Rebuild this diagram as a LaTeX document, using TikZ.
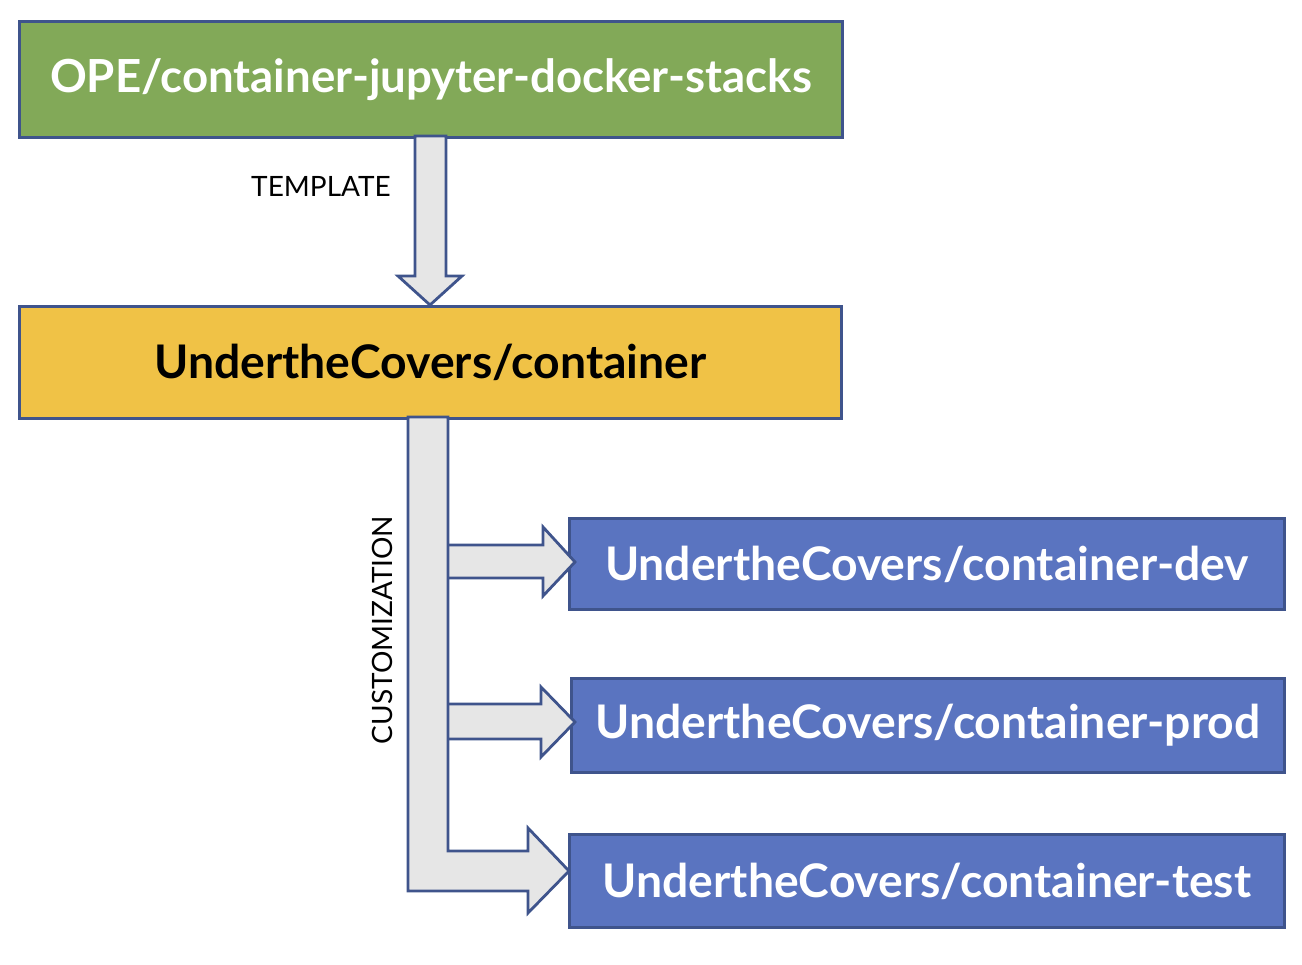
\documentclass[tikz,border=0pt]{standalone}
\usepackage{fontspec}
\setmainfont{Lato}
\begin{document}
\begin{tikzpicture}[x=1pt,y=-1pt,
  box/.style={draw=bordc,line width=3pt,inner sep=0pt,anchor=north west},
  blockarrow/.style={draw=bordc,fill=arrowc,line width=2.8pt,line join=miter},
  boxtext/.style={font=\fontsize{46.3}{54}\selectfont\bfseries},
  lbl/.style={font=\fontsize{28}{32}\selectfont}]
\definecolor{bordc}{HTML}{3F548C}
\definecolor{greenc}{HTML}{82A958}
\definecolor{yellowc}{HTML}{F0C246}
\definecolor{bluec}{HTML}{5A74C0}
\definecolor{arrowc}{HTML}{E6E6E6}
\useasboundingbox (0,0) rectangle (1302,965);
% boxes
\node[box,fill=greenc,minimum width=823pt,minimum height=116pt] (ope) at (18,20) {};
\node[boxtext,text=white,font=\fontsize{45.6}{54}\selectfont\bfseries] (opet) at (ope.center) {OPE/container-jupyter-docker-stacks};
\node[box,fill=yellowc,minimum width=822pt,minimum height=112pt] (utc) at (18,305) {};
\node[boxtext,text=black] (utct) at (utc.center) {UndertheCovers/container};
\node[box,fill=bluec,minimum width=715pt,minimum height=91pt] (dev) at (568,517) {};
\node[boxtext,text=white] (devt) at (dev.center) {UndertheCovers/container-dev};
\node[box,fill=bluec,minimum width=713pt,minimum height=94pt] (prod) at (570,677) {};
\node[boxtext,text=white] (prodt) at (prod.center) {UndertheCovers/container-prod};
\node[box,fill=bluec,minimum width=715pt,minimum height=93pt] (test) at (568,833) {};
\node[boxtext,text=white] (testt) at (test.center) {UndertheCovers/container-test};
% top block arrow
\draw[blockarrow] (415,136) -- (446,136) -- (446,276) -- (462,276) -- (430,305) -- (398,276) -- (415,276) -- cycle;
% customization block arrows (side arrows first)
\draw[blockarrow] (447,545) -- (543,545) -- (543,527) -- (575,562) -- (543,596) -- (543,578) -- (447,578) -- cycle;
\draw[blockarrow] (447,704) -- (541,704) -- (541,687) -- (575,722) -- (541,757) -- (541,739) -- (447,739) -- cycle;
\draw[blockarrow] (408,417) -- (448,417) -- (448,851) -- (528,851) -- (528,828) -- (569,871) -- (528,913) -- (528,891) -- (408,891) -- cycle;
% labels
\node[lbl] (tmpl) at (321,186) {TEMPLATE};
\node[lbl,rotate=90] (cust) at (382,630) {CUSTOMIZATION};
\end{tikzpicture}
\end{document}
